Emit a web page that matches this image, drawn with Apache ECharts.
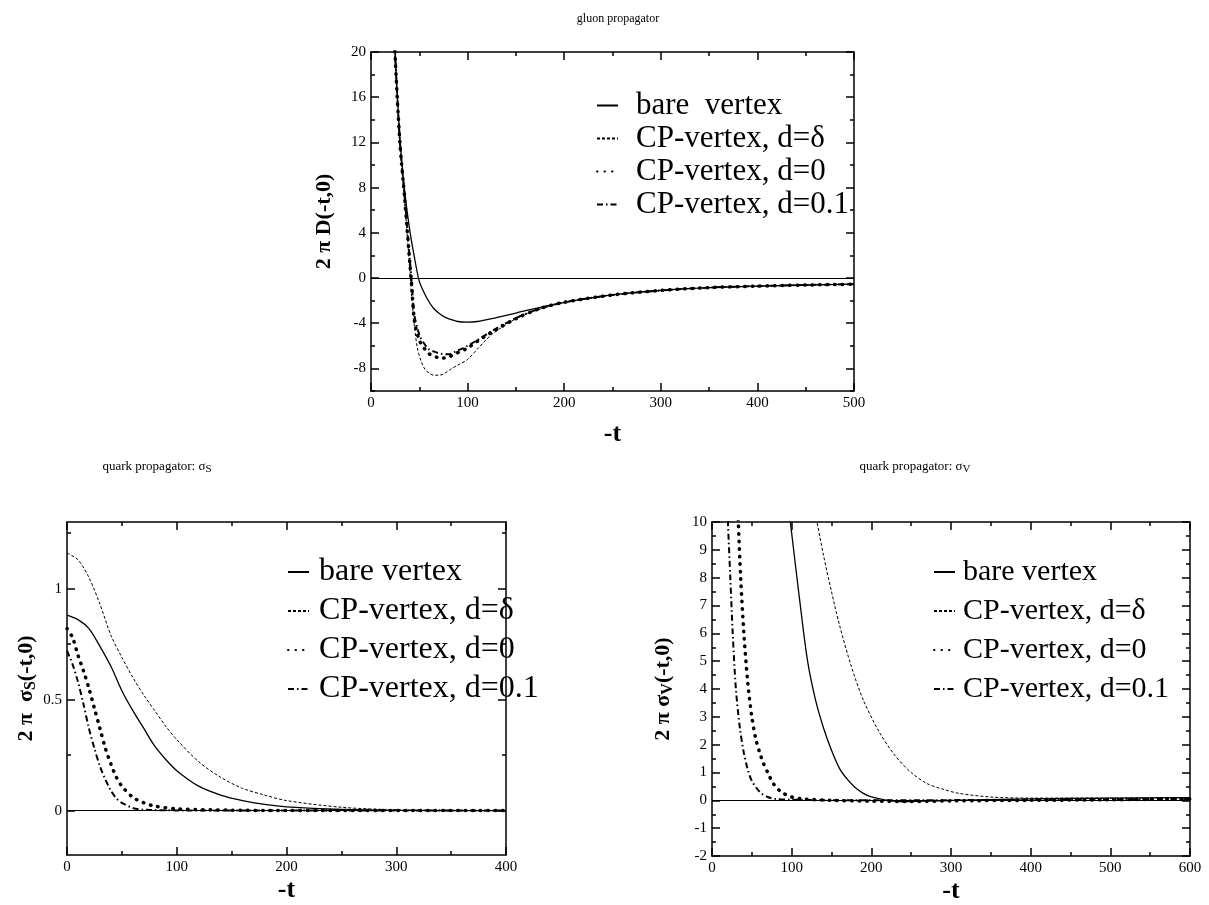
<!DOCTYPE html>
<html>
<head>
<meta charset="utf-8">
<script src="https://cdn.jsdelivr.net/npm/echarts@6/dist/echarts.min.js"></script>
<style>
html,body{margin:0;padding:0;background:#fff;}
#chart{width:1209px;height:905px;}
</style>
</head>
<body>
<div id="chart"></div>
<script>
// ---------- DATA ----------
const seriesNames = ['bare vertex', 'CP-vertex, d=δ', 'CP-vertex, d=0', 'CP-vertex, d=0.1'];

// gluon propagator 2πD(-t,0)
const gBareT  = [20,25,30,35,40,45,50,55,60,65,70,75,80,90,100,110,125,150,175,200,250,300,350,400,450,500];
const gBareV  = [30,20,12.3,7.6,4.3,1.8,-0.3,-1.3,-2.1,-2.7,-3.1,-3.4,-3.6,-3.85,-3.9,-3.85,-3.6,-3.1,-2.6,-2.15,-1.5,-1.1,-0.85,-0.72,-0.62,-0.55];
const gDeltaT = [20,25,30,35,38,40,42,45,48,52,56,60,65,70,75,82,90,100,110,116,125,150,175,200,250,300,350,400,450,500];
const gDeltaV = [30,19.5,11.8,6.5,3.2,0.8,-1.6,-4.3,-6.2,-7.4,-8.1,-8.4,-8.6,-8.6,-8.5,-8.1,-7.7,-7.2,-6.3,-5.75,-5.0,-3.6,-2.75,-2.2,-1.5,-1.1,-0.85,-0.72,-0.62,-0.55];
const gD0T    = [20,25,30,35,40,42,45,50,55,60,65,72,80,90,100,110,125,150,175,200,250,300,350,400,450,500];
const gD0V    = [30,19.6,11.9,6.9,1.5,-0.5,-3.8,-5.5,-6.2,-6.7,-6.9,-7.1,-7.0,-6.6,-6.2,-5.6,-4.8,-3.6,-2.7,-2.15,-1.5,-1.1,-0.85,-0.72,-0.62,-0.55];
const gD01T   = [20,25,30,35,40,42,45,50,55,60,65,72,80,90,100,110,125,150,175,200,250,300,350,400,450,500];
const gD01V   = [30,19.7,12.0,7.0,1.8,-0.2,-3.3,-5.0,-5.8,-6.3,-6.5,-6.7,-6.75,-6.4,-6.0,-5.5,-4.7,-3.55,-2.7,-2.15,-1.5,-1.1,-0.85,-0.72,-0.62,-0.55];

// quark propagator sigma_S
const sBareT  = [0,10,20,30,40,50,60,70,80,90,100,120,140,160,180,200,250,300,400];
const sBareV  = [0.88,0.86,0.82,0.74,0.65,0.54,0.45,0.37,0.29,0.23,0.18,0.11,0.07,0.045,0.028,0.017,0.005,0.001,0];
const sDeltaT = [0,10,20,30,40,50,60,70,80,90,100,120,140,160,180,200,250,300,400];
const sDeltaV = [1.16,1.13,1.05,0.93,0.79,0.69,0.60,0.52,0.45,0.38,0.32,0.22,0.15,0.10,0.07,0.045,0.015,0.004,0];
const sD0T    = [0,5,10,15,20,25,30,35,40,45,50,60,70,80,100,150,200,400];
const sD0V    = [0.82,0.78,0.70,0.63,0.55,0.46,0.37,0.28,0.21,0.15,0.11,0.06,0.035,0.02,0.008,0.002,0,0];
const sD01T   = [0,5,10,15,20,25,30,35,40,45,50,60,70,100,200,400];
const sD01V   = [0.72,0.66,0.58,0.48,0.37,0.28,0.20,0.14,0.09,0.055,0.035,0.012,0.004,0.001,0,0];

// quark propagator sigma_V
const vBareT  = [90,100,110,120,130,140,150,160,170,180,190,200,220,240,300,400,500,600];
const vBareV  = [12,9.6,7.2,5.0,3.6,2.6,1.8,1.15,0.75,0.45,0.25,0.12,0.0,-0.05,0.0,0.05,0.08,0.1];
const vDeltaT = [125,130,140,150,160,175,190,210,230,250,270,290,310,350,400,500,600];
const vDeltaV = [11.2,10.3,8.8,7.5,6.3,4.8,3.6,2.45,1.6,1.0,0.6,0.4,0.25,0.12,0.08,0.08,0.1];
const vD0T    = [30,33,36,40,45,50,55,60,65,70,77,87,100,115,150,200,250,300,400,500,600];
const vD0V    = [12,10,8,6,4.2,3.0,2.2,1.7,1.3,1.0,0.6,0.3,0.12,0.05,0.0,-0.03,-0.04,-0.02,0.0,0.02,0.05];
const vD01T   = [18,20,23,26,30,35,40,45,50,60,70,80,100,200,400,600];
const vD01V   = [12,10,8,6,4,2.6,1.7,1.1,0.7,0.3,0.12,0.05,0.02,0.0,0.02,0.05];

// tick values
const gXMajor = [0,100,200,300,400,500];
const gXMinor = [50,150,250,350,450];
const gYMajor = [-8,-4,0,4,8,12,16,20];
const gYMinor = [-10,-6,-2,2,6,10,14,18];
const sXMajor = [0,100,200,300,400];
const sXMinor = [50,150,250,350];
const sYMajor = [0,0.5,1];
const sYMinor = [0.25,0.75,1.25];
const vXMajor = [0,100,200,300,400,500,600];
const vXMinor = [50,150,250,350,450,550];
const vYMajor = [-2,-1,0,1,2,3,4,5,6,7,8,9,10];
const vYMinor = [-1.5,-0.5,0.5,1.5,2.5,3.5,4.5,5.5,6.5,7.5,8.5,9.5];

// ---------- STYLE ----------
const SERIF = '"Liberation Serif","DejaVu Serif",serif';
const BLACK = '#000';
const lineStyles = [
  {color: BLACK, width: 1.3, type: 'solid'},
  {color: BLACK, width: 1, type: [3, 2]},
  {color: BLACK, width: 3.5, type: [0.5, 7], cap: 'round'},
  {color: BLACK, width: 2, type: [6, 3, 1.5, 3]}
];

function zip(t, v) { return t.map((x, i) => [x, v[i]]); }

const xAxes = [], yAxes = [];
function addAxes(g, xr, yr, xMaj, xMin, yMaj, yMin, xName, xGap, yName, yGap, yRich, yLabelFmt) {
  const base = {type: 'value', gridIndex: g, splitLine: {show: false}, splitArea: {show: false}};
  const lab = {fontFamily: SERIF, fontSize: 15, color: BLACK};
  const xi = xAxes.length, yi = yAxes.length;
  xAxes.push(Object.assign({}, base, {
    position: 'bottom', min: xr[0], max: xr[1],
    axisLine: {show: true, onZero: false, lineStyle: {color: BLACK, width: 1.5}},
    axisTick: {show: true, inside: true, length: 8, customValues: xMaj, lineStyle: {color: BLACK, width: 1.5}},
    axisLabel: Object.assign({show: true, customValues: xMaj, margin: 5}, lab),
    name: xName, nameLocation: 'middle', nameGap: xGap,
    nameTextStyle: {fontFamily: SERIF, fontWeight: 'bold', fontSize: 26, color: BLACK}
  }));
  xAxes.push(Object.assign({}, base, {
    position: 'bottom', min: xr[0], max: xr[1],
    axisLine: {show: false, onZero: false},
    axisTick: {show: true, inside: true, length: 4, customValues: xMin, lineStyle: {color: BLACK, width: 1.5}},
    axisLabel: {show: false}
  }));
  xAxes.push(Object.assign({}, base, {
    position: 'top', min: xr[0], max: xr[1],
    axisLine: {show: true, onZero: false, lineStyle: {color: BLACK, width: 1.5}},
    axisTick: {show: true, inside: true, length: 8, customValues: xMaj, lineStyle: {color: BLACK, width: 1.5}},
    axisLabel: {show: false}
  }));
  xAxes.push(Object.assign({}, base, {
    position: 'top', min: xr[0], max: xr[1],
    axisLine: {show: false, onZero: false},
    axisTick: {show: true, inside: true, length: 4, customValues: xMin, lineStyle: {color: BLACK, width: 1.5}},
    axisLabel: {show: false}
  }));
  yAxes.push(Object.assign({}, base, {
    position: 'left', min: yr[0], max: yr[1],
    axisLine: {show: true, onZero: false, lineStyle: {color: BLACK, width: 1.5}},
    axisTick: {show: true, inside: true, length: 8, customValues: yMaj, lineStyle: {color: BLACK, width: 1.5}},
    axisLabel: Object.assign({show: true, customValues: yMaj, margin: 5, formatter: yLabelFmt}, lab),
    name: yName, nameLocation: 'middle', nameGap: yGap, nameRotate: 90,
    nameTextStyle: {fontFamily: SERIF, fontWeight: 'bold', fontSize: 22, color: BLACK, rich: yRich}
  }));
  yAxes.push(Object.assign({}, base, {
    position: 'left', min: yr[0], max: yr[1],
    axisLine: {show: false, onZero: false},
    axisTick: {show: true, inside: true, length: 4, customValues: yMin, lineStyle: {color: BLACK, width: 1.5}},
    axisLabel: {show: false}
  }));
  yAxes.push(Object.assign({}, base, {
    position: 'right', min: yr[0], max: yr[1],
    axisLine: {show: true, onZero: false, lineStyle: {color: BLACK, width: 1.5}},
    axisTick: {show: true, inside: true, length: 8, customValues: yMaj, lineStyle: {color: BLACK, width: 1.5}},
    axisLabel: {show: false}
  }));
  yAxes.push(Object.assign({}, base, {
    position: 'right', min: yr[0], max: yr[1],
    axisLine: {show: false, onZero: false},
    axisTick: {show: true, inside: true, length: 4, customValues: yMin, lineStyle: {color: BLACK, width: 1.5}},
    axisLabel: {show: false}
  }));
  return [xi, yi];
}

const nameRich = {
  b: {fontFamily: SERIF, fontWeight: 'bold', fontSize: 22, color: BLACK},
  s: {fontFamily: SERIF, fontWeight: 'bold', fontSize: 16, color: BLACK, padding: [10, 0, 0, 0]}
};

const [gx, gy] = addAxes(0, [0, 500], [-10, 20], gXMajor, gXMinor, gYMajor, gYMinor, '-t', 30,
  '{b|2 π D(-t,0)}', 36, nameRich, null);
const [sx, sy] = addAxes(1, [0, 400], [-0.2, 1.3], sXMajor, sXMinor, sYMajor, sYMinor, '-t', 22,
  '{b|2 π  σ}{s|S}{b|(-t,0)}', 26, nameRich, v => String(v));
const [vx, vy] = addAxes(2, [0, 600], [-2, 10], vXMajor, vXMinor, vYMajor, vYMinor, '-t', 22,
  '{b|2 π σ}{s|V}{b|(-t,0)}', 36, nameRich, null);

function mk(name, idx, xi, yi, data, zero) {
  const s = {
    name: name, type: 'line', xAxisIndex: xi, yAxisIndex: yi, data: data,
    symbol: 'none', showSymbol: false, smooth: 0.3, clip: true, silent: true,
    lineStyle: lineStyles[idx], itemStyle: {color: BLACK}
  };
  if (zero) {
    s.markLine = {silent: true, symbol: 'none', label: {show: false},
      lineStyle: {color: BLACK, width: 1.2, type: 'solid'}, data: [{yAxis: 0}]};
  }
  return s;
}

const series = [
  mk(seriesNames[0], 0, gx, gy, zip(gBareT, gBareV), true),
  mk(seriesNames[1], 1, gx, gy, zip(gDeltaT, gDeltaV)),
  mk(seriesNames[2], 2, gx, gy, zip(gD0T, gD0V)),
  mk(seriesNames[3], 3, gx, gy, zip(gD01T, gD01V)),
  mk(seriesNames[0], 0, sx, sy, zip(sBareT, sBareV), true),
  mk(seriesNames[1], 1, sx, sy, zip(sDeltaT, sDeltaV)),
  mk(seriesNames[2], 2, sx, sy, zip(sD0T, sD0V)),
  mk(seriesNames[3], 3, sx, sy, zip(sD01T, sD01V)),
  mk(seriesNames[0], 0, vx, vy, zip(vBareT, vBareV), true),
  mk(seriesNames[1], 1, vx, vy, zip(vDeltaT, vDeltaV)),
  mk(seriesNames[2], 2, vx, vy, zip(vD0T, vD0V)),
  mk(seriesNames[3], 3, vx, vy, zip(vD01T, vD01V))
];

function legendAt(left, top, fontSize, lineH, gap, padLeft, fmt) {
  return {
    orient: 'vertical', left: left, top: top, itemGap: gap, itemWidth: 21, itemHeight: 10,
    selectedMode: false, data: seriesNames,
    itemStyle: {opacity: 0},
    textStyle: {fontFamily: SERIF, fontSize: fontSize, color: BLACK, lineHeight: lineH, padding: [0, 0, 0, padLeft]},
    formatter: fmt || (n => n)
  };
}

const titleStyle = {fontFamily: SERIF, fontSize: 12, fontWeight: 'normal', color: BLACK,
  rich: {a: {fontFamily: SERIF, fontSize: 13, color: BLACK}, s: {fontFamily: SERIF, fontSize: 11, color: BLACK, padding: [6, 0, 0, 0]}}};

const option = {
  animation: false,
  backgroundColor: '#fff',
  title: [
    {text: 'gluon propagator', left: 613, top: 8, textAlign: 'center', textStyle: titleStyle},
    {text: '{a|quark propagator: σ}{s|S}', left: 152, top: 453, textAlign: 'center', textStyle: titleStyle},
    {text: '{a|quark propagator: σ}{s|V}', left: 910, top: 453, textAlign: 'center', textStyle: titleStyle}
  ],
  grid: [
    {left: 371, top: 52, width: 483, height: 339, show: false},
    {left: 67, top: 522, width: 439, height: 333, show: false},
    {left: 712, top: 522, width: 478, height: 334, show: false}
  ],
  legend: [
    legendAt(591, 85, 31, 31, 2, 13, n => n === 'bare vertex' ? 'bare  vertex' : n),
    legendAt(282, 551, 32, 32, 7, 5),
    legendAt(928, 552, 30, 30, 9, 3)
  ],
  xAxis: xAxes,
  yAxis: yAxes,
  series: series
};

const chart = echarts.init(document.getElementById('chart'), null, {renderer: 'canvas'});
chart.setOption(option);
</script>
</body>
</html>
